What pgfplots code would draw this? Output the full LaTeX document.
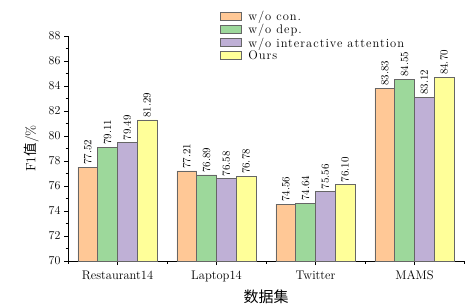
\documentclass[border=0pt]{standalone}
\usepackage{fontspec}
\usepackage{pgfplots}
\pgfplotsset{compat=1.18}
\newfontfamily\cjk{Noto Sans CJK SC}
\newfontfamily\lsfont[LetterSpace=8]{Latin Modern Roman}
\definecolor{cA}{HTML}{FFC896}
\definecolor{cB}{HTML}{9DD89B}
\definecolor{cC}{HTML}{BFB0D6}
\definecolor{cD}{HTML}{FFFF99}
\definecolor{edge}{HTML}{666666}
\newcommand{\ws}{\hspace{5pt}}
\begin{document}
\begin{tikzpicture}
\begin{axis}[
  width=396pt, height=225pt, scale only axis,
  xmin=-0.5, xmax=3.5, ymin=70, ymax=88,
  axis x line*=bottom, axis y line*=left,
  xtick={0,1,2,3},
  xticklabels={Restaurant14,Laptop14,Twitter,MAMS},
  minor xtick={-0.5,0.5,1.5,2.5,3.5},
  ytick={70,72,...,88},
  minor y tick num=1,
  tick align=outside,
  major tick length=4pt, minor tick length=2.5pt,
  tick style={black, line width=0.6pt},
  axis line style={line width=0.6pt},
  ylabel={F1{\cjk 值}/\%},
  xlabel={{\cjk 数据集}},
  ylabel style={font=\fontsize{13.5}{15}\selectfont, yshift=3pt},
  xlabel style={font=\fontsize{15}{17}\selectfont, yshift=-1pt},
  tick label style={font=\fontsize{12.5}{14}\selectfont},
  xticklabel style={yshift=-2pt},
  ybar, bar width=0.2, bar shift auto=false,
  nodes near coords,
  nodes near coords style={rotate=90, anchor=west, font=\fontsize{11}{12}\selectfont, /pgf/number format/fixed, /pgf/number format/fixed zerofill, /pgf/number format/precision=2, inner sep=2pt},
  every axis plot/.append style={draw=edge, line width=0.6pt},
  legend style={draw=none, fill=none, at={(0.38,1.125)}, anchor=north west, font=\lsfont\fontsize{12.5}{13}\selectfont, row sep=-1.6pt, column sep=5pt, inner sep=1pt},
  legend cell align=left,
  legend image code/.code={\draw[#1] (0pt,-3.5pt) rectangle (21pt,4.5pt);},
]
\addplot[fill=cA, bar shift=-0.3] coordinates {(0,77.52) (1,77.21) (2,74.56) (3,83.83)};
\addplot[fill=cB, bar shift=-0.1] coordinates {(0,79.11) (1,76.89) (2,74.64) (3,84.55)};
\addplot[fill=cC, bar shift=0.1] coordinates {(0,79.49) (1,76.58) (2,75.56) (3,83.12)};
\addplot[fill=cD, bar shift=0.3] coordinates {(0,81.29) (1,76.78) (2,76.10) (3,84.70)};
\legend{w/o\ws con.,w/o\ws dep.,w/o\ws interactive\ws attention,Ours}
\end{axis}
\pgfresetboundingbox
\path ([shift={(-68pt,-45pt)}]current axis.south west) rectangle ([shift={(5pt,36pt)}]current axis.north east);
\end{tikzpicture}
\end{document}
